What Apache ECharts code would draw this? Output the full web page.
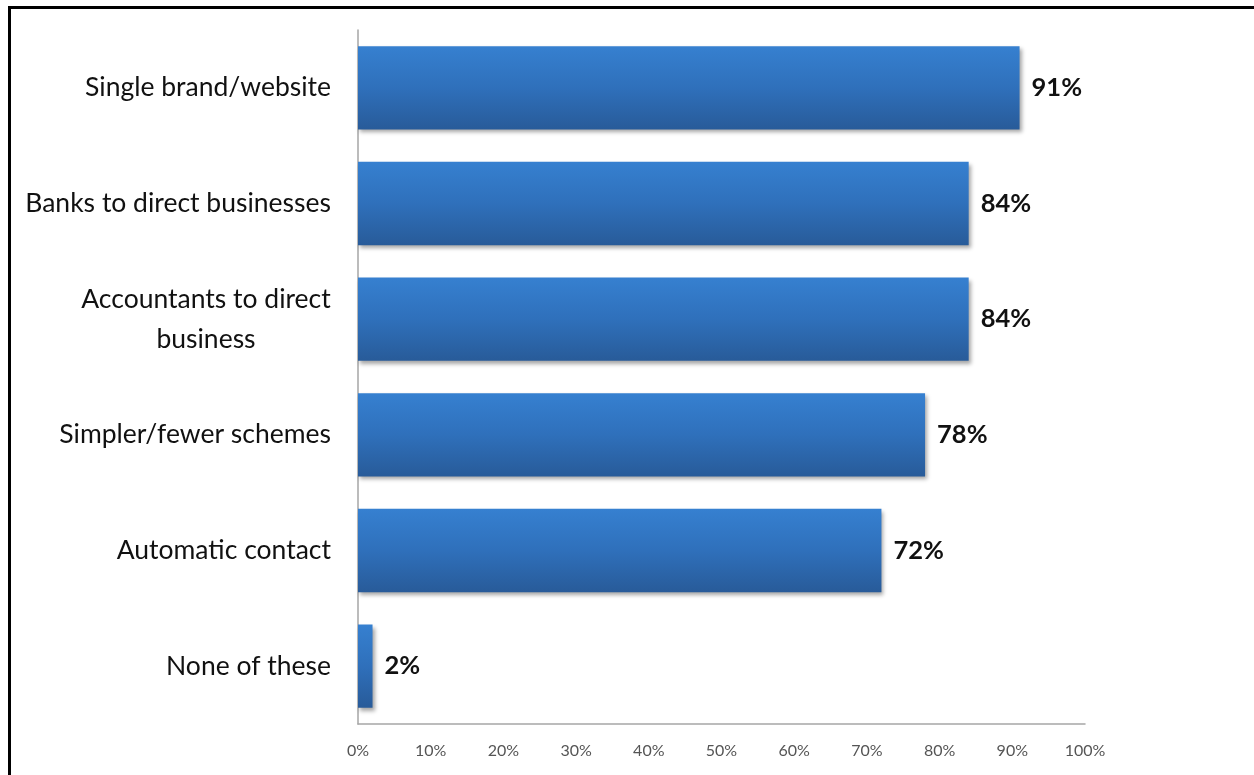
<!DOCTYPE html>
<html>
<head>
<meta charset="utf-8">
<script src="https://cdn.jsdelivr.net/npm/echarts@6/dist/echarts.min.js"></script>
<style>
  html, body { margin: 0; padding: 0; background: #fff; }
  #chart { width: 1254px; height: 775px; }
</style>
</head>
<body>
<div id="chart"></div>
<script>
// Survey responses: share agreeing with each proposed change
const categories = [
  'Single brand/website',
  'Banks to direct businesses',
  'Accountants to direct\nbusiness',
  'Simpler/fewer schemes',
  'Automatic contact',
  'None of these'
];
const shares = [91, 84, 84, 78, 72, 2];
const tickLabels = ['0%', '10%', '20%', '30%', '40%', '50%', '60%', '70%', '80%', '90%', '100%'];

const chart = echarts.init(document.getElementById('chart'), null, { renderer: 'canvas' });

const labelFont = 'Lato, "Open Sans", sans-serif';

const barFill = new echarts.graphic.LinearGradient(0, 0, 0, 1, [
  { offset: 0, color: '#3680d0' },
  { offset: 0.5, color: '#2f70bb' },
  { offset: 1, color: '#285b99' }
]);

chart.setOption({
  animation: false,
  backgroundColor: '#ffffff',
  graphic: [{
    type: 'rect',
    left: 7, top: 5,
    shape: { width: 1300, height: 800 },
    style: { fill: 'none', stroke: '#000', lineWidth: 3 },
    silent: true
  }],
  grid: { left: 358, right: 169, top: 30, bottom: 51, containLabel: false },
  xAxis: {
    type: 'value',
    min: 0, max: 100, interval: 10,
    axisLine: { show: true, lineStyle: { color: '#a6a6a6', width: 1.5 } },
    axisTick: { show: false },
    splitLine: { show: false },
    axisLabel: {
      margin: 19,
      color: '#555',
      fontFamily: labelFont,
      fontSize: 16,
      formatter: v => tickLabels[v / 10]
    }
  },
  yAxis: {
    type: 'category',
    data: categories,
    inverse: true,
    axisLine: { show: true, lineStyle: { color: '#a6a6a6', width: 1.5 } },
    axisTick: { show: false },
    axisLabel: {
      margin: 27,
      color: '#111',
      fontFamily: labelFont,
      fontSize: 26.5,
      lineHeight: 40,
      align: 'right',
      // wrapped labels have their lines centred within the block
      formatter: v => v.indexOf('\n') < 0 ? v
        : v.split('\n').map(line => '{c|' + line + '}').join('\n'),
      rich: {
        c: {
          width: 250,
          align: 'center',
          color: '#111',
          fontFamily: labelFont,
          fontSize: 26.5,
          lineHeight: 40
        }
      }
    }
  },
  series: [{
    type: 'bar',
    data: shares,
    barWidth: '72%',
    itemStyle: {
      color: barFill,
      shadowColor: 'rgba(0,0,0,0.35)',
      shadowBlur: 4,
      shadowOffsetX: 2,
      shadowOffsetY: 3
    },
    label: {
      show: true,
      position: 'right',
      distance: 12,
      color: '#111',
      fontFamily: labelFont,
      fontWeight: 'bold',
      fontSize: 25.5,
      formatter: p => p.value + '%'
    }
  }]
});
</script>
</body>
</html>
